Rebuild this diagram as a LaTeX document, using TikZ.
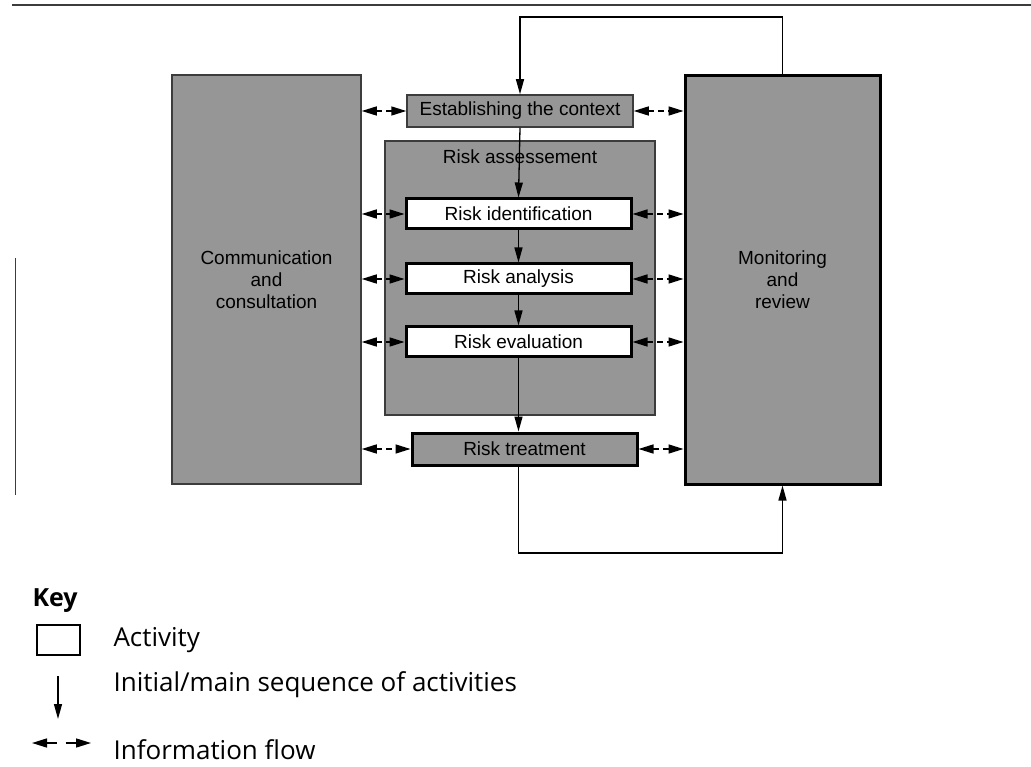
\documentclass[tikz,border=0pt]{standalone}
\usepackage{fontspec}
\setmainfont{Open Sans}
\newfontfamily\diagfont{Liberation Sans}
\usetikzlibrary{arrows.meta}
\definecolor{boxgray}{RGB}{150,150,150}
\definecolor{linegray}{RGB}{60,60,60}

\tikzset{
  activity/.style={draw=black,line width=3pt,fill=white,minimum width=225pt,minimum height=30pt,inner sep=0pt,
    font=\diagfont\fontsize{19}{22}\selectfont},
  greybox/.style={draw=linegray,line width=1.5pt,fill=boxgray,inner sep=0pt,align=center,
    font=\diagfont\fontsize{19}{22}\selectfont},
  seq/.style={line width=1.3pt,-{Triangle[length=15pt,width=8pt]}},
  info/.style={line width=1.5pt,dash pattern=on 6pt off 4pt,
    {Triangle[length=15pt,width=9pt]}-{Triangle[length=15pt,width=9pt]}},
  keytext/.style={anchor=west,font=\fontsize{26}{30}\selectfont}
}

\begin{document}
\begin{tikzpicture}[x=1pt,y=-1pt]
 \useasboundingbox (0,0) rectangle (1031,767);
 \draw[line width=2pt,linegray] (12,5) -- (1031,5);
 \draw[line width=1pt,linegray] (15,258) -- (15,495);

 % side boxes
 \node[greybox,minimum width=189pt,minimum height=409pt] (comm) at (266.5,279.5) {Communication\\and\\consultation};
 \node[greybox,draw=black,line width=3pt,minimum width=195pt,minimum height=408pt] (mon) at (782.5,280) {Monitoring\\and\\review};

 % middle column
 \node[greybox,minimum width=226pt,minimum height=32pt] (est) at (520,111) {Establishing the context};
 \node[greybox,minimum width=270pt,minimum height=274pt] (assess) at (520,278) {};
 \node[font=\diagfont\fontsize{19}{22}\selectfont] (assesslabel) at (520,157) {Risk assessement};
 \node[activity] (ident) at (518.5,214) {Risk identification};
 \node[activity] (anal) at (518.5,279) {Risk analysis};
 \node[activity] (eval) at (518.5,342) {Risk evaluation};
 \node[greybox,draw=black,line width=3pt,minimum width=225pt,minimum height=32pt] (treat) at (524.5,449) {Risk treatment};

 % main sequence
 \draw[seq] (est.south) -- (ident.north);
 \draw[seq] (ident) -- (anal);
 \draw[seq] (anal) -- (eval);
 \draw[seq] (eval.south) -- (eval.south |- treat.north);
 \coordinate (looptop) at (650,17);
 \coordinate (loopbot) at (650,553);
 \draw[seq] (mon.north) |- (looptop) -| (est.north);
 \draw[seq] (eval.south |- treat.south) |- (loopbot) -| (mon.south);

 % information flow
 \foreach \b in {est,ident,anal,eval,treat}{
  \draw[info] (comm.east |- \b.west) -- (\b.west);
  \draw[info] (\b.east) -- (mon.west |- \b.east);
 }

 % key
 \node[anchor=west,font=\bfseries\fontsize{25}{30}\selectfont] (key) at (29,601) {Key};
 \node[draw=black,line width=2.5pt,minimum width=43pt,minimum height=30pt,inner sep=0pt] (keybox) at (58.5,640) {};
 \node[keytext] (keyact) at (110,640) {Activity};
 \coordinate (seqa) at (58,676);
 \coordinate (seqb) at (58,719);
 \draw[seq] (seqa) -- (seqb);
 \node[keytext] (keyseq) at (110,685) {Initial/main sequence of activities};
 \coordinate (infoa) at (32,743);
 \coordinate (infob) at (91,743);
 \draw[info,dash pattern=on 10pt off 9pt] (infoa) -- (infob);
 \node[keytext] (keyinfo) at (110,750) {Information flow};
\end{tikzpicture}
\end{document}
